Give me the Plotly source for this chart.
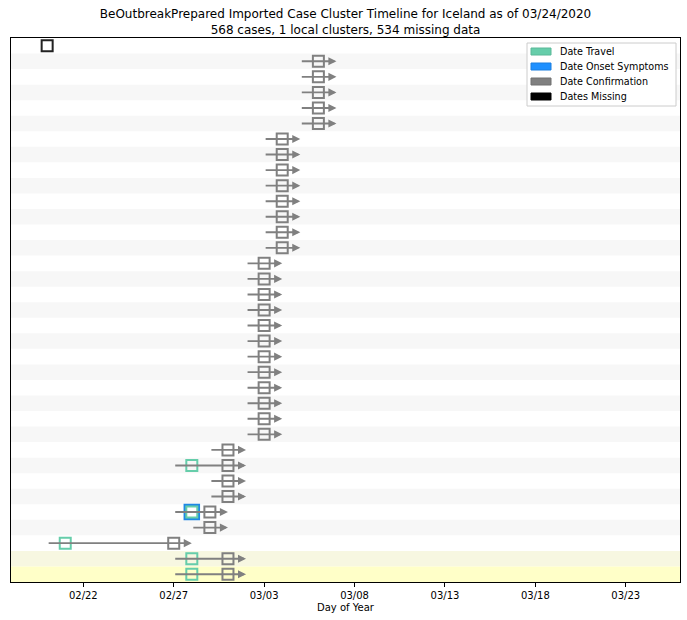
"""Imported case cluster timeline (Plotly)."""

from datetime import date, timedelta

import plotly.graph_objects as go

# one entry per row, top to bottom (None = no date)
confirm_dates = (
    [None]
    + ["2020-03-06"] * 5
    + ["2020-03-04"] * 8
    + ["2020-03-03"] * 12
    + ["2020-03-01"] * 4
    + ["2020-02-29"] * 2
    + ["2020-02-27"]
    + ["2020-03-01"] * 2
)
travel_dates = [None] * 35
travel_dates[27] = "2020-02-28"
travel_dates[30] = "2020-02-28"
travel_dates[32] = "2020-02-21"
travel_dates[33] = "2020-02-28"
travel_dates[34] = "2020-02-28"
onset_dates = [None] * 35
onset_dates[30] = "2020-02-28"
missing_dates = [None] * 35
missing_dates[0] = "2020-02-20"

highlight_rows = {33: "#f7f7e1", 34: "#ffffc8"}

tick_dates = ["2020-02-22", "2020-02-27", "2020-03-03", "2020-03-08",
              "2020-03-13", "2020-03-18", "2020-03-23"]

C_TRAVEL = "#66cdaa"
C_ONSET = "#1e88e5"
C_CONF = "#808080"
C_MISSING = "#222222"

W, H = 687, 620
L, R, T, B = 11, 680, 38, 582  # plot area in pixels
FONT = "DejaVu Sans"

n = len(confirm_dates)
rows = list(range(n))


def px(x):
    return (x - L) / (R - L)


def py(y):
    return (B - y) / (B - T)


def shift(d, days):
    return (date.fromisoformat(d) + timedelta(days=days)).isoformat()


def pts(dates):
    xs, ys = [], []
    for i, d in enumerate(dates):
        if d is not None:
            xs.append(d)
            ys.append(i)
    return xs, ys


fig = go.Figure()

shapes = []
for i in rows:
    color = highlight_rows.get(i, "#f7f7f7" if i % 2 == 1 else None)
    if color:
        shapes.append(dict(
            type="rect", xref="paper", yref="y", x0=0, x1=1,
            y0=i - 0.5, y1=i + 0.5, fillcolor=color, line=dict(width=0),
            layer="below",
        ))

# timeline arrows: from first known date - 1 day to confirmation + 1 day
annotations = []
for i in rows:
    if confirm_dates[i] is None:
        continue
    known = [d for d in (travel_dates[i], onset_dates[i], confirm_dates[i]) if d]
    start = shift(min(known), -1)
    end = shift(confirm_dates[i], 1)
    annotations.append(dict(
        x=end, y=i, ax=start, ay=i, xref="x", yref="y", axref="x", ayref="y",
        text="", showarrow=True, arrowhead=2, arrowsize=0.85, arrowwidth=1.9,
        arrowcolor=C_CONF,
    ))

x, y = pts(onset_dates)
fig.add_trace(go.Scatter(
    x=x, y=y, mode="markers", showlegend=False, hoverinfo="skip",
    marker=dict(symbol="square-open", size=14, color=C_ONSET, line=dict(width=2.5, color=C_ONSET)),
))
for dates, color in ((confirm_dates, C_CONF), (travel_dates, C_TRAVEL), (missing_dates, C_MISSING)):
    x, y = pts(dates)
    fig.add_trace(go.Scatter(
        x=x, y=y, mode="markers", showlegend=False, hoverinfo="skip",
        marker=dict(symbol="square-open", size=11, color=color, line=dict(width=2, color=color)),
    ))

# legend drawn by hand (matplotlib style patches)
legend_items = [("Date Travel", "#66cdaa", "#5bb898"),
                ("Date Onset Symptoms", "#1e90ff", "#1b7fe0"),
                ("Date Confirmation", "#808080", "#707070"),
                ("Dates Missing", "#000000", "#000000")]
shapes.append(dict(
    type="rect", xref="paper", yref="paper", x0=px(527), x1=px(676),
    y0=py(106), y1=py(43), fillcolor="rgba(255,255,255,0.9)",
    line=dict(color="#cccccc", width=1),
))
for k, (label, fill, edge) in enumerate(legend_items):
    yc = 51.5 + k * 15
    shapes.append(dict(
        type="rect", xref="paper", yref="paper", x0=px(531), x1=px(551),
        y0=py(yc + 3.5), y1=py(yc - 3.5), fillcolor=fill,
        line=dict(color=edge, width=1),
    ))
    annotations.append(dict(
        x=px(558), y=py(yc), xref="paper", yref="paper", text=label,
        showarrow=False, xanchor="left", yanchor="middle",
        font=dict(family=FONT, size=9.6, color="#000000"),
    ))

fig.update_layout(
    width=W, height=H,
    margin=dict(l=L, r=W - R, t=T, b=H - B),
    paper_bgcolor="white", plot_bgcolor="white",
    title=dict(
        text="BeOutbreakPrepared Imported Case Cluster Timeline for Iceland as of 03/24/2020"
             "<br>568 cases, 1 local clusters, 534 missing data",
        x=px(345.5), xref="paper", xanchor="center",
        y=1 - 18 / H, yanchor="top",
        font=dict(family=FONT, size=12, color="#000000"),
    ),
    xaxis=dict(
        type="date", range=["2020-02-18", "2020-03-26"],
        tickvals=tick_dates, tickformat="%m/%d",
        ticks="outside", ticklen=4, tickcolor="#000000",
        tickfont=dict(family=FONT, size=10, color="#000000"),
        title=dict(text="Day of Year", font=dict(family=FONT, size=10, color="#000000"), standoff=3),
        showgrid=False, zeroline=False,
        showline=True, linecolor="#000000", linewidth=1, mirror=True,
    ),
    yaxis=dict(
        range=[n - 0.5, -0.5], showticklabels=False, ticks="",
        showgrid=False, zeroline=False,
        showline=True, linecolor="#000000", linewidth=1, mirror=True,
    ),
    shapes=shapes,
    annotations=annotations,
    showlegend=False,
)

fig.write_html("out.html", config={"displayModeBar": False},
               post_script="document.body.style.margin='0';")
